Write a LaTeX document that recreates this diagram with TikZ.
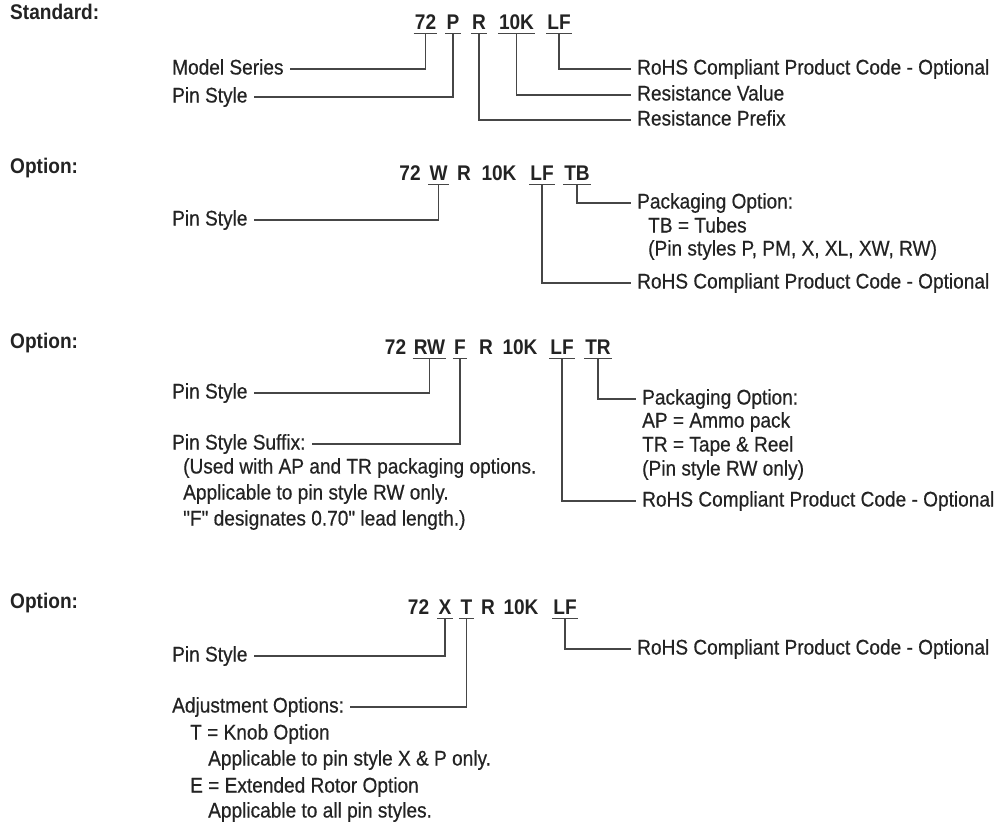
\documentclass[tikz,border=0pt]{standalone}
\usepackage{fontspec}
\setmainfont{Liberation Sans}[Ligatures=TeXOff,FakeStretch=0.9,UprightFeatures={FakeBold=0.5}]
\usetikzlibrary{positioning,calc}
\definecolor{inkgray}{RGB}{35,35,35}
\definecolor{linegray}{RGB}{70,70,70}

\begin{document}
\begin{tikzpicture}
[x=1pt,y=-1pt,
txt/.style={anchor=west,inner sep=0pt,text=inkgray,font=\fontsize{21.2}{24}\selectfont,text height=14pt,text depth=3pt},
head/.style={txt,font=\fontsize{21.2}{24}\selectfont\bfseries},
part/.style={anchor=base,inner xsep=1pt,inner ysep=4pt,text=inkgray,font=\fontsize{21.2}{24}\selectfont\bfseries,text depth=0pt},
tick/.style={draw=linegray,line width=1.4pt},
lead/.style={draw=linegray,line width=1.4pt,shorten >=6pt},]

\useasboundingbox (0,0) rectangle (995,828);

%Standard
\node[head] (stdH) at (10,14) {Standard:};
\node[part] (sA72) at (425.5,29) {72};
\node[part] (sAP) at (453,29) {P};
\node[part] (sAR) at (479,29) {R};
\node[part] (sA10K) at (516.5,29) {10K};
\node[part] (sALF) at (559,29) {LF};

\node[txt] (sAms) at (172,69) {Model Series};
\node[txt] (sAps) at (172,97) {Pin Style};
\node[txt] (sArohs) at (637,69) {RoHS Compliant Product Code - Optional};
\node[txt] (sArv) at (637,95) {Resistance Value};
\node[txt] (sArp) at (637,120) {Resistance Prefix};

\foreach \n in {sA72,sAP,sAR,sA10K,sALF}
  \draw[tick] (\n.south west) -- (\n.south east);
\draw[lead] (sA72.south) |- (sAms.east);
\draw[lead] (sAP.south) |- (sAps.east);
\draw[lead] (sALF.south) |- (sArohs.west);
\draw[lead] (sA10K.south) |- (sArv.west);
\draw[lead] (sAR.south) |- (sArp.west);

%Option with tubes
\node[head] (optB) at (10,168) {Option:};
\node[part] (sB72) at (410,180) {72};
\node[part] (sBW) at (438.5,180) {W};
\node[part] (sBR) at (464,180) {R};
\node[part] (sB10K) at (499,180) {10K};
\node[part] (sBLF) at (542,180) {LF};
\node[part] (sBTB) at (577,180) {TB};

\node[txt] (sBps) at (172,220) {Pin Style};
\node[txt] (sBpk) at (637,203) {Packaging Option:};
\node[txt] (sBtb) at (648,227) {TB = Tubes};
\node[txt] (sBpin) at (648,250) {(Pin styles P, PM, X, XL, XW, RW)};
\node[txt] (sBrohs) at (637,283) {RoHS Compliant Product Code - Optional};

\foreach \n in {sBW,sBLF,sBTB}
  \draw[tick] (\n.south west) -- (\n.south east);
\draw[lead] (sBW.south) |- (sBps.east);
\draw[lead] (sBTB.south) |- (sBpk.west);
\draw[lead] (sBLF.south) |- (sBrohs.west);

%Option with tape and reel
\node[head] (optC) at (10,343) {Option:};
\node[part] (sC72) at (395.5,354) {72};
\node[part] (sCRW) at (429.5,354) {RW};
\node[part] (sCF) at (460,354) {F};
\node[part] (sCR) at (486,354) {R};
\node[part] (sC10K) at (520,354) {10K};
\node[part] (sCLF) at (562,354) {LF};
\node[part] (sCTR) at (598,354) {TR};

\node[txt] (sCps) at (172,393) {Pin Style};
\node[txt] (sCsfx) at (172,444) {Pin Style Suffix:};
\node[txt] (sCused) at (183,468) {(Used with AP and TR packaging options.};
\node[txt] (sCappl) at (183,494) {Applicable to pin style RW only.};
\node[txt] (sCfdes) at (183,520) {"F" designates 0.70" lead length.)};
\node[txt] (sCpk) at (642,399) {Packaging Option:};
\node[txt] (sCap) at (642,422) {AP = Ammo pack};
\node[txt] (sCtr) at (642,446) {TR = Tape \& Reel};
\node[txt] (sCrw) at (642,470) {(Pin style RW only)};
\node[txt] (sCrohs) at (642,501) {RoHS Compliant Product Code - Optional};

\foreach \n in {sCRW,sCF,sCLF,sCTR}
  \draw[tick] (\n.south west) -- (\n.south east);
\draw[lead] (sCRW.south) |- (sCps.east);
\draw[lead] (sCF.south) |- (sCsfx.east);
\draw[lead] (sCTR.south) |- (sCpk.west);
\draw[lead] (sCLF.south) |- (sCrohs.west);

%Option with adjustment
\node[head] (optD) at (10,603) {Option:};
\node[part] (sD72) at (418.5,614) {72};
\node[part] (sDX) at (445,614) {X};
\node[part] (sDT) at (466.5,614) {T};
\node[part] (sDR) at (488,614) {R};
\node[part] (sD10K) at (521,614) {10K};
\node[part] (sDLF) at (565,614) {LF};

\node[txt] (sDps) at (172,656) {Pin Style};
\node[txt] (sDrohs) at (637,649) {RoHS Compliant Product Code - Optional};
\node[txt] (sDadj) at (172,707) {Adjustment Options:};
\node[txt] (sDknob) at (190,734) {T = Knob Option};
\node[txt] (sDxp) at (208,760) {Applicable to pin style X \& P only.};
\node[txt] (sDext) at (190,787) {E = Extended Rotor Option};
\node[txt] (sDall) at (208,812) {Applicable to all pin styles.};

\foreach \n in {sDX,sDT,sDLF}
  \draw[tick] (\n.south west) -- (\n.south east);
\draw[lead] (sDX.south) |- (sDps.east);
\draw[lead] (sDT.south) |- (sDadj.east);
\draw[lead] (sDLF.south) |- (sDrohs.west);

\end{tikzpicture}
\end{document}
